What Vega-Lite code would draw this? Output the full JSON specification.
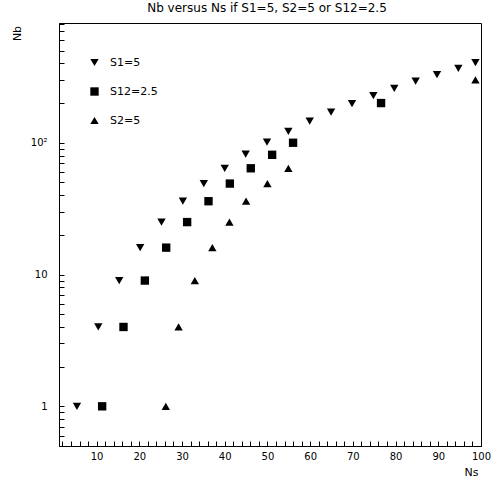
{
  "$schema": "https://vega.github.io/schema/vega-lite/v6.json",
  "width": 422,
  "height": 423,
  "autosize": "none",
  "padding": {"left": 59, "top": 23, "right": 16, "bottom": 33},
  "background": "white",
  "title": {
    "text": "Nb versus Ns if S1=5, S2=5 or S12=2.5",
    "font": "DejaVu Sans",
    "fontSize": 12,
    "fontWeight": "normal",
    "color": "black",
    "anchor": "middle",
    "offset": 4,
    "dx": -3
  },
  "config": {
    "view": {"stroke": "black", "strokeWidth": 1},
    "font": "DejaVu Sans"
  },
  "data": {
    "values": [
      {"series": "S1=5", "Ns": 5.4, "Nb": 1},
      {"series": "S1=5", "Ns": 10.4, "Nb": 4},
      {"series": "S1=5", "Ns": 15.3, "Nb": 9},
      {"series": "S1=5", "Ns": 20.2, "Nb": 16},
      {"series": "S1=5", "Ns": 25.2, "Nb": 25},
      {"series": "S1=5", "Ns": 30.2, "Nb": 36},
      {"series": "S1=5", "Ns": 35.1, "Nb": 49},
      {"series": "S1=5", "Ns": 40.0, "Nb": 64},
      {"series": "S1=5", "Ns": 44.9, "Nb": 82},
      {"series": "S1=5", "Ns": 49.9, "Nb": 101},
      {"series": "S1=5", "Ns": 54.9, "Nb": 122},
      {"series": "S1=5", "Ns": 59.9, "Nb": 146},
      {"series": "S1=5", "Ns": 64.9, "Nb": 171},
      {"series": "S1=5", "Ns": 69.8, "Nb": 198},
      {"series": "S1=5", "Ns": 74.8, "Nb": 228},
      {"series": "S1=5", "Ns": 79.7, "Nb": 259},
      {"series": "S1=5", "Ns": 84.7, "Nb": 293},
      {"series": "S1=5", "Ns": 89.7, "Nb": 329},
      {"series": "S1=5", "Ns": 94.7, "Nb": 367},
      {"series": "S1=5", "Ns": 98.7, "Nb": 406},
      {"series": "S12=2.5", "Ns": 11.3, "Nb": 1},
      {"series": "S12=2.5", "Ns": 16.3, "Nb": 4},
      {"series": "S12=2.5", "Ns": 21.3, "Nb": 9},
      {"series": "S12=2.5", "Ns": 26.3, "Nb": 16},
      {"series": "S12=2.5", "Ns": 31.2, "Nb": 25},
      {"series": "S12=2.5", "Ns": 36.2, "Nb": 36},
      {"series": "S12=2.5", "Ns": 41.2, "Nb": 49},
      {"series": "S12=2.5", "Ns": 46.1, "Nb": 64},
      {"series": "S12=2.5", "Ns": 51.1, "Nb": 81},
      {"series": "S12=2.5", "Ns": 56.0, "Nb": 100},
      {"series": "S12=2.5", "Ns": 76.6, "Nb": 200},
      {"series": "S2=5", "Ns": 26.2, "Nb": 1},
      {"series": "S2=5", "Ns": 29.2, "Nb": 4},
      {"series": "S2=5", "Ns": 33.0, "Nb": 9},
      {"series": "S2=5", "Ns": 37.1, "Nb": 16},
      {"series": "S2=5", "Ns": 41.1, "Nb": 25},
      {"series": "S2=5", "Ns": 45.0, "Nb": 36},
      {"series": "S2=5", "Ns": 50.0, "Nb": 49},
      {"series": "S2=5", "Ns": 54.9, "Nb": 64},
      {"series": "S2=5", "Ns": 98.7, "Nb": 300}
    ]
  },
  "mark": {"type": "point", "filled": true, "opacity": 1, "color": "black", "size": 70},
  "encoding": {
    "x": {
      "field": "Ns",
      "type": "quantitative",
      "scale": {"domain": [1.2, 100], "nice": false, "zero": false},
      "axis": {
        "title": "Ns",
        "titleFont": "DejaVu Sans",
        "titleFontSize": 11,
        "titleFontWeight": "normal",
        "titleColor": "black",
        "titleX": 412,
        "titleY": 26,
        "titleAlign": "center",
        "titleBaseline": "middle",
        "values": [2,4,6,8,10,12,14,16,18,20,22,24,26,28,30,32,34,36,38,40,42,44,46,48,50,52,54,56,58,60,62,64,66,68,70,72,74,76,78,80,82,84,86,88,90,92,94,96,98,100],
        "labelExpr": "datum.value % 10 == 0 ? format(datum.value, 'd') : ''",
        "labelFont": "DejaVu Sans",
        "labelFontSize": 10,
        "labelColor": "black",
        "labelPadding": 10,
        "labelFlush": false,
        "labelOverlap": false,
        "grid": false,
        "ticks": true,
        "zindex": 1,
        "domainColor": "black",
        "tickColor": "black",
        "tickWidth": 1,
        "tickSize": -5
      }
    },
    "y": {
      "field": "Nb",
      "type": "quantitative",
      "scale": {"type": "log", "domain": [0.5, 810], "nice": false},
      "axis": {
        "title": "Nb",
        "titleFont": "DejaVu Sans",
        "titleFontSize": 11,
        "titleFontWeight": "normal",
        "titleColor": "black",
        "titleX": -42,
        "titleY": 10,
        "titleAlign": "center",
        "titleBaseline": "middle",
        "titleAngle": 270,
        "values": [0.5,0.6,0.7,0.8,0.9,1,2,3,4,5,6,7,8,9,10,20,30,40,50,60,70,80,90,100,200,300,400,500,600,700,800],
        "labelExpr": "datum.value == 1 ? '1' : datum.value == 10 ? '10' : datum.value == 100 ? '10²' : ''",
        "labelFont": "DejaVu Sans",
        "labelFontSize": 10,
        "labelColor": "black",
        "labelPadding": 17,
        "labelOverlap": false,
        "labelFlush": false,
        "grid": false,
        "ticks": true,
        "zindex": 1,
        "domainColor": "black",
        "tickColor": "black",
        "tickWidth": 1,
        "tickSize": -5
      }
    },
    "shape": {
      "field": "series",
      "type": "nominal",
      "scale": {"domain": ["S1=5", "S12=2.5", "S2=5"], "range": ["triangle-down", "square", "triangle-up"]},
      "legend": {
        "orient": "none",
        "legendX": 30,
        "legendY": 34,
        "title": null,
        "padding": 0,
        "symbolFillColor": "black",
        "symbolStrokeColor": "black",
        "symbolSize": 70,
        "symbolOpacity": 1,
        "labelFont": "DejaVu Sans",
        "labelFontSize": 11,
        "labelColor": "black",
        "labelOffset": 10,
        "rowPadding": 14
      }
    }
  }
}
